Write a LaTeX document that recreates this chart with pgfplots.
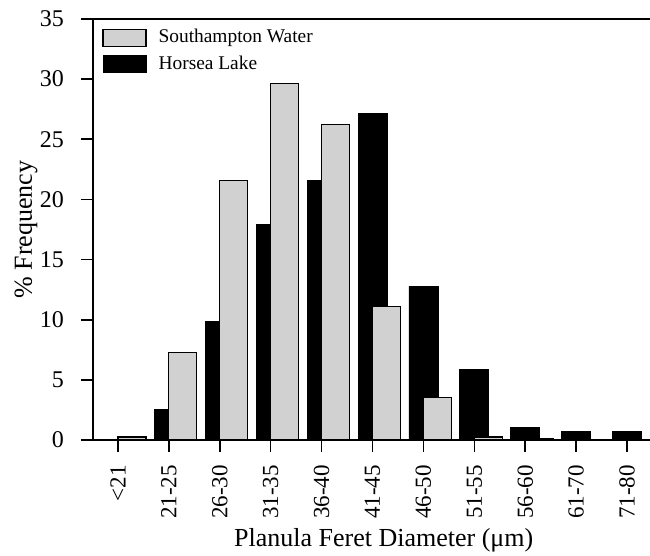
\documentclass[border=0pt]{standalone}
\usepackage{fontspec}
\setmainfont{Liberation Serif}
\usepackage{pgfplots}
\pgfplotsset{compat=1.18}
\definecolor{stipple}{gray}{0.82}
\begin{document}
\begin{tikzpicture}
\begin{axis}[
  name=ax,
  scale only axis,
  width=278.5pt, height=210.5pt,
  xmin=-0.49, xmax=10.45,
  ymin=0, ymax=35,
  axis x line*=box, axis y line*=left,
  axis line style={line width=1pt},
  xtick={0,1,2,3,4,5,6,7,8,9,10},
  xticklabels={{<21},{21-25},{26-30},{31-35},{36-40},{41-45},{46-50},{51-55},{56-60},{61-70},{71-80}},
  xtick pos=left, ytick pos=left,
  ytick={0,5,10,15,20,25,30,35},
  tick align=outside,
  major tick length=6pt,
  tick style={line width=0.8pt, black},
  /pgf/number format/assume math mode=true,
  yticklabel style={font=\fontsize{12}{14}\selectfont},
  yticklabel shift=5pt,
  xticklabel style={font=\fontsize{11.5}{13}\selectfont, rotate=90, anchor=east},
  xticklabel shift=3pt,
  xlabel={Planula Feret Diameter (μm)},
  ylabel={\% Frequency},
  xlabel style={font=\fontsize{13}{15}\selectfont, at={(axis description cs:0.522,0)}, anchor=base, yshift=-53.5pt},
  ylabel style={font=\fontsize{13}{15}\selectfont, at={(axis description cs:-0.12,0.5)}, anchor=center},
  legend style={at={(axis description cs:0,1)}, anchor=north west, xshift=1.5pt, yshift=-1.5pt,
    draw=none, fill=none, font=\fontsize{9.7}{11}\selectfont, row sep=2pt, column sep=4.5pt,
    nodes={inner sep=1.5pt}},
  legend cell align=left,
  reverse legend,
  legend image code/.code={\draw[#1] (0pt,-4.25pt) rectangle (21.5pt,4.25pt);},
]
\addplot[ybar, bar width=0.57, bar shift=0, fill=black, draw=black, line width=0.4pt]
  coordinates {(0,0) (1,2.55) (2,9.85) (3,17.95) (4,21.6) (5,27.15) (6,12.8) (7,5.85) (8,1.05) (9,0.7) (10,0.7)};
\addlegendentry{Horsea Lake}
\addplot[ybar, bar width=0.55, bar shift=0.275, fill=stipple, draw=black, line width=0.6pt]
  coordinates {(0,0.25) (1,7.3) (2,21.55) (3,29.65) (4,26.2) (5,11.1) (6,3.5) (7,0.25) (8,0.1) (9,0) (10,0)};
\addlegendentry{Southampton Water}
\end{axis}
\pgfresetboundingbox
\path[use as bounding box] ([xshift=-46.5pt,yshift=-58pt]ax.south west) rectangle ([yshift=9.5pt]ax.north east);
\end{tikzpicture}
\end{document}
